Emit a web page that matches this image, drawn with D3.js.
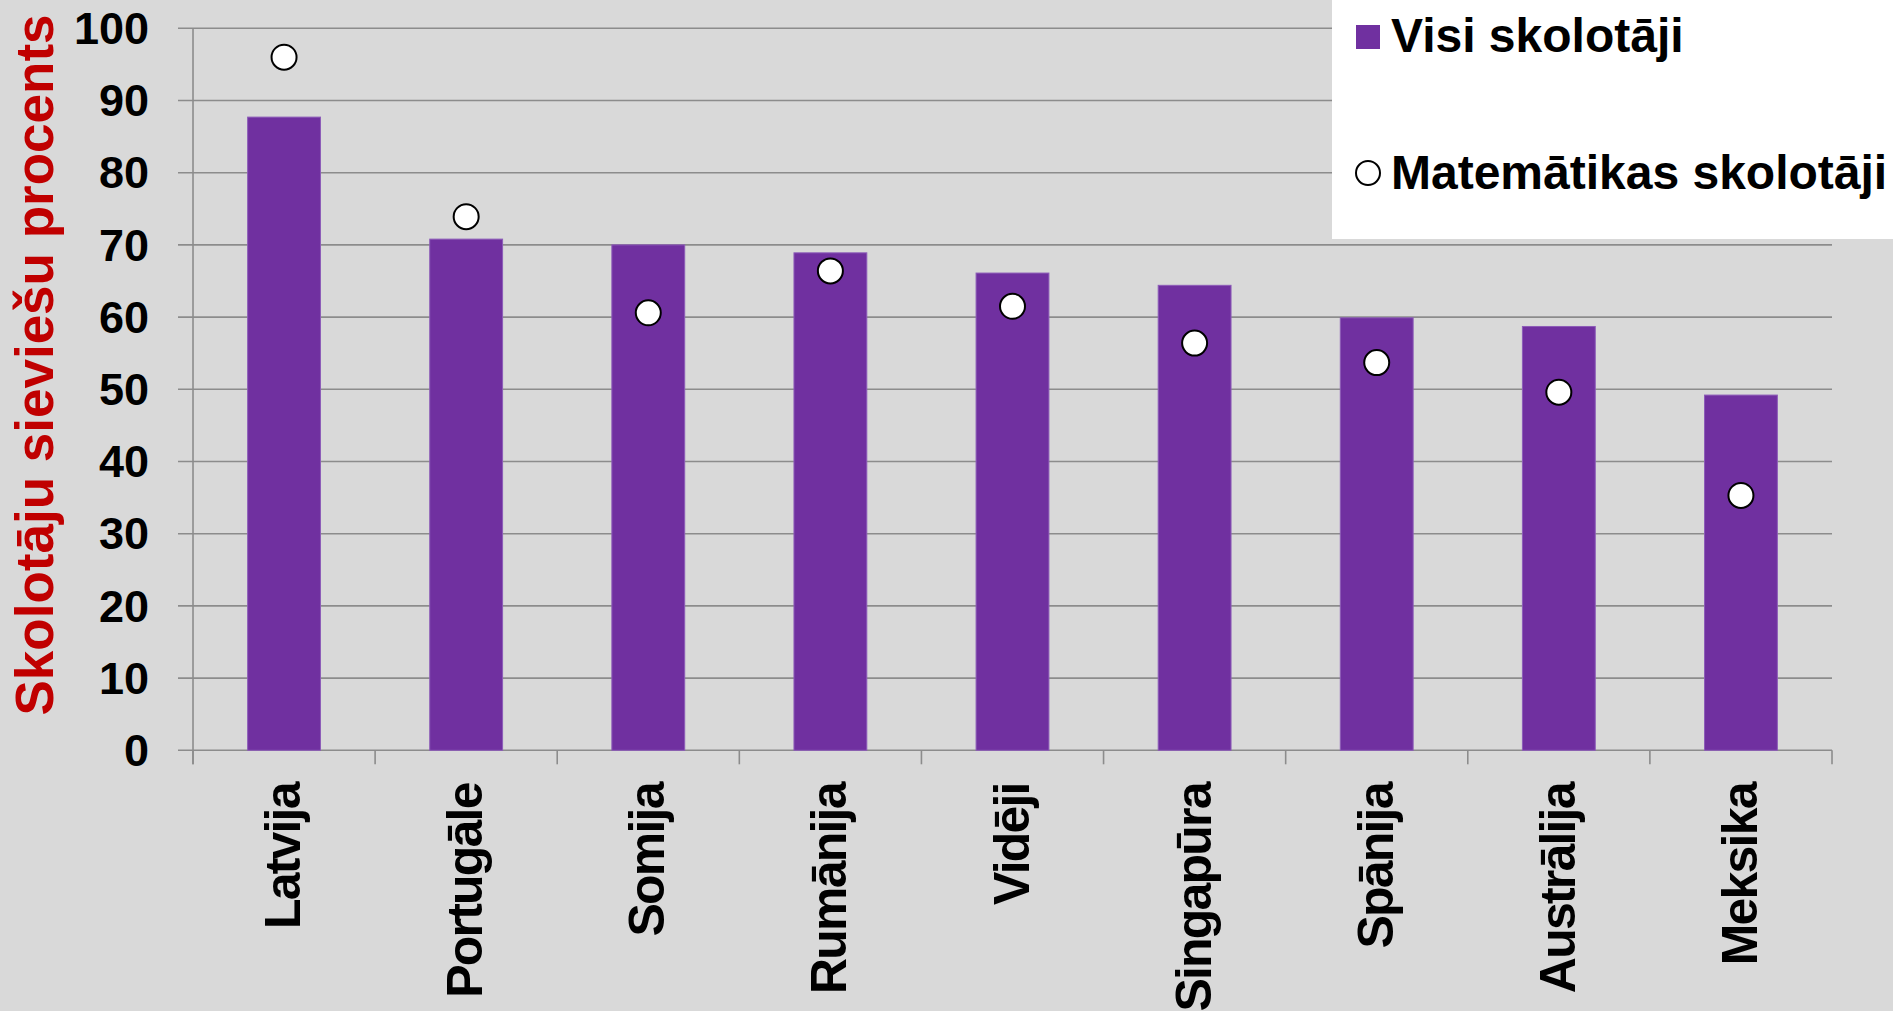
<!DOCTYPE html>
<html>
<head>
<meta charset="utf-8">
<script src="https://cdn.jsdelivr.net/npm/d3@7"></script>
<style>
  html, body { margin: 0; padding: 0; background: #d9d9d9; }
  svg { display: block; font-family: "Liberation Sans", Arial, sans-serif; font-weight: bold; }
</style>
</head>
<body>
<svg id="chart" width="1893" height="1011"></svg>
<script>
const categories = ['Latvija', 'Portugāle', 'Somija', 'Rumānija', 'Vidēji', 'Singapūra', 'Spānija', 'Austrālija', 'Meksika'];
const allTeachers = [87.7, 70.8, 70.0, 68.9, 66.1, 64.4, 59.9, 58.7, 49.2];
const mathTeachers = [96.0, 73.9, 60.6, 66.4, 61.5, 56.4, 53.7, 49.6, 35.3];
const yTicks = [0, 10, 20, 30, 40, 50, 60, 70, 80, 90, 100];
const legendLabels = ['Visi skolotāji', 'Matemātikas skolotāji'];
const yTitle = 'Skolotāju sieviešu procents';

const svg = d3.select('#chart');
const plotLeft = 193, plotRight = 1832, plotTop = 28.3, plotBottom = 750.3;
const axisColour = '#8c8c8c';

const x = d3.scaleBand().domain(categories).range([plotLeft, plotRight]).padding(0);
const y = d3.scaleLinear().domain([0, 100]).range([plotBottom, plotTop]);

svg.append('rect').attr('width', 1893).attr('height', 1011).attr('fill', '#d9d9d9');

// gridlines + left ticks
svg.append('g').selectAll('line')
  .data(yTicks)
  .join('line')
  .attr('x1', plotLeft - 15)
  .attr('x2', plotRight)
  .attr('y1', d => y(d))
  .attr('y2', d => y(d))
  .attr('stroke', axisColour)
  .attr('stroke-width', 1.6);

// y axis line
svg.append('line')
  .attr('x1', plotLeft).attr('x2', plotLeft)
  .attr('y1', plotTop).attr('y2', plotBottom + 14)
  .attr('stroke', axisColour).attr('stroke-width', 1.6);

// bottom ticks at category boundaries
const boundaries = categories.map(c => x(c)).concat([plotRight]);
svg.append('g').selectAll('line')
  .data(boundaries)
  .join('line')
  .attr('x1', d => d).attr('x2', d => d)
  .attr('y1', plotBottom).attr('y2', plotBottom + 14)
  .attr('stroke', axisColour).attr('stroke-width', 1.6);

// y tick labels
svg.append('g').selectAll('text')
  .data(yTicks)
  .join('text')
  .attr('x', 149)
  .attr('y', d => y(d))
  .attr('dy', '0.35em')
  .attr('text-anchor', 'end')
  .attr('font-size', 45)
  .attr('fill', '#000')
  .text(d => d);

// y axis title
svg.append('text')
  .attr('transform', `translate(53, 365) rotate(-90)`)
  .attr('text-anchor', 'middle')
  .attr('font-size', 53)
  .attr('fill', '#c00000')
  .text(yTitle);

// bars
const barW = x.bandwidth() * 0.4;
svg.append('g').selectAll('rect')
  .data(categories)
  .join('rect')
  .attr('x', d => x(d) + (x.bandwidth() - barW) / 2)
  .attr('y', (d, i) => y(allTeachers[i]))
  .attr('width', barW)
  .attr('height', (d, i) => plotBottom - y(allTeachers[i]))
  .attr('fill', '#7030a0')
  .attr('stroke', '#8d5cb8')
  .attr('stroke-width', 1);

// math teacher markers
svg.append('g').selectAll('circle')
  .data(categories)
  .join('circle')
  .attr('cx', d => x(d) + x.bandwidth() / 2)
  .attr('cy', (d, i) => y(mathTeachers[i]))
  .attr('r', 12.5)
  .attr('fill', '#fff')
  .attr('stroke', '#000')
  .attr('stroke-width', 2);

// x labels
svg.append('g').selectAll('text')
  .data(categories)
  .join('text')
  .attr('transform', d => `translate(${x(d) + x.bandwidth() / 2}, ${plotBottom + 33}) rotate(-90)`)
  .attr('dy', '0.32em')
  .attr('text-anchor', 'end')
  .attr('font-size', 50)
  .attr('letter-spacing', '-1.8px')
  .attr('fill', '#000')
  .text(d => d);

// legend
const legend = svg.append('g');
legend.append('rect')
  .attr('x', 1332).attr('y', 0)
  .attr('width', 1893 - 1332).attr('height', 239)
  .attr('fill', '#fff');
legend.append('rect')
  .attr('x', 1356).attr('y', 25)
  .attr('width', 24).attr('height', 24)
  .attr('fill', '#7030a0');
legend.append('circle')
  .attr('cx', 1368).attr('cy', 173)
  .attr('r', 12)
  .attr('fill', '#fff')
  .attr('stroke', '#000')
  .attr('stroke-width', 2);
legend.selectAll('text')
  .data(legendLabels)
  .join('text')
  .attr('x', 1391)
  .attr('y', (d, i) => i === 0 ? 52 : 189)
  .attr('font-size', 48)
  .attr('fill', '#000')
  .text(d => d);
</script>
</body>
</html>
